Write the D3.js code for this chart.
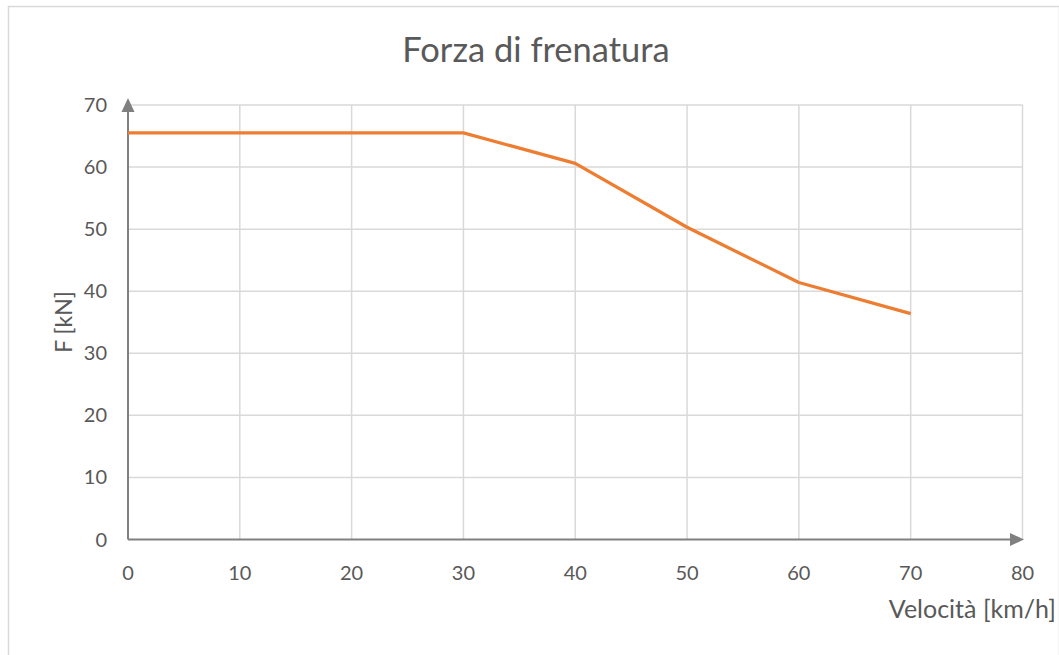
<!DOCTYPE html>
<html>
<head>
<meta charset="utf-8">
<script src="https://cdn.jsdelivr.net/npm/d3@7"></script>
<style>
  html, body { margin: 0; padding: 0; background: #fff; }
  svg { display: block; }
  text { font-family: Lato, "Open Sans", sans-serif; fill: #595959; }
</style>
</head>
<body>
<svg id="chart" width="1059" height="655"></svg>
<script>
// Braking force versus speed
const speeds = [0, 10, 20, 30, 40, 50, 60, 70];
const forces = [65.5, 65.5, 65.5, 65.5, 60.6, 50.3, 41.4, 36.4];
const xTicks = [0, 10, 20, 30, 40, 50, 60, 70, 80];
const yTicks = [0, 10, 20, 30, 40, 50, 60, 70];
const titleText = "Forza di frenatura";
const xLabel = "Velocità [km/h]";
const yLabel = "F [kN]";

const svg = d3.select("#chart");
const W = 1059, H = 655;

// chart frame
svg.append("rect")
  .attr("x", 8.5).attr("y", 6.5)
  .attr("width", W - 8).attr("height", H - 3)
  .attr("fill", "#fff").attr("stroke", "#d9d9d9").attr("stroke-width", 1.5);

const x = d3.scaleLinear().domain([0, 80]).range([128, 1022.5]);
const y = d3.scaleLinear().domain([0, 70]).range([539.5, 105]);

// gridlines
const grid = svg.append("g");
grid.selectAll("line.v").data(xTicks.slice(1)).join("line")
  .attr("x1", d => x(d)).attr("x2", d => x(d))
  .attr("y1", y(0)).attr("y2", y(70))
  .attr("stroke", "#d9d9d9").attr("stroke-width", 1.5);
grid.selectAll("line.h").data(yTicks.slice(1)).join("line")
  .attr("x1", x(0)).attr("x2", x(80))
  .attr("y1", d => y(d)).attr("y2", d => y(d))
  .attr("stroke", "#d9d9d9").attr("stroke-width", 1.5);

// axes with arrowheads
const axisColor = "#808080";
svg.append("line")
  .attr("x1", x(0)).attr("x2", x(80) - 8)
  .attr("y1", y(0)).attr("y2", y(0))
  .attr("stroke", axisColor).attr("stroke-width", 2);
svg.append("line")
  .attr("x1", x(0)).attr("x2", x(0))
  .attr("y1", y(0)).attr("y2", y(70) + 6)
  .attr("stroke", axisColor).attr("stroke-width", 2);
const xe = x(80) + 1.5, ye = y(0);
svg.append("path")
  .attr("d", `M${xe},${ye} L${xe - 14},${ye - 6.5} L${xe - 14},${ye + 6.5} Z`)
  .attr("fill", axisColor);
const ax = x(0), ay = y(70) - 7;
svg.append("path")
  .attr("d", `M${ax},${ay} L${ax - 6.5},${ay + 14} L${ax + 6.5},${ay + 14} Z`)
  .attr("fill", axisColor);

// tick labels
svg.append("g").selectAll("text").data(yTicks).join("text")
  .attr("x", 107).attr("y", d => y(d) + 7)
  .attr("text-anchor", "end").attr("font-size", 20)
  .text(d => d);
svg.append("g").selectAll("text").data(xTicks).join("text")
  .attr("x", d => x(d)).attr("y", 580)
  .attr("text-anchor", "middle").attr("font-size", 20)
  .text(d => d);

// data line
const line = d3.line().x((d, i) => x(speeds[i])).y(d => y(d));
svg.append("path")
  .datum(forces)
  .attr("d", line)
  .attr("fill", "none")
  .attr("stroke", "#ED7D31")
  .attr("stroke-width", 3.25)
  .attr("stroke-linejoin", "round");

// titles
svg.append("text")
  .attr("x", 536).attr("y", 62)
  .attr("text-anchor", "middle").attr("font-size", 34.5)
  .text(titleText);
svg.append("text")
  .attr("x", 1056).attr("y", 618)
  .attr("text-anchor", "end").attr("font-size", 25)
  .text(xLabel);
svg.append("text")
  .attr("transform", "translate(72,322) rotate(-90)")
  .attr("text-anchor", "middle").attr("font-size", 23)
  .text(yLabel);
</script>
</body>
</html>
